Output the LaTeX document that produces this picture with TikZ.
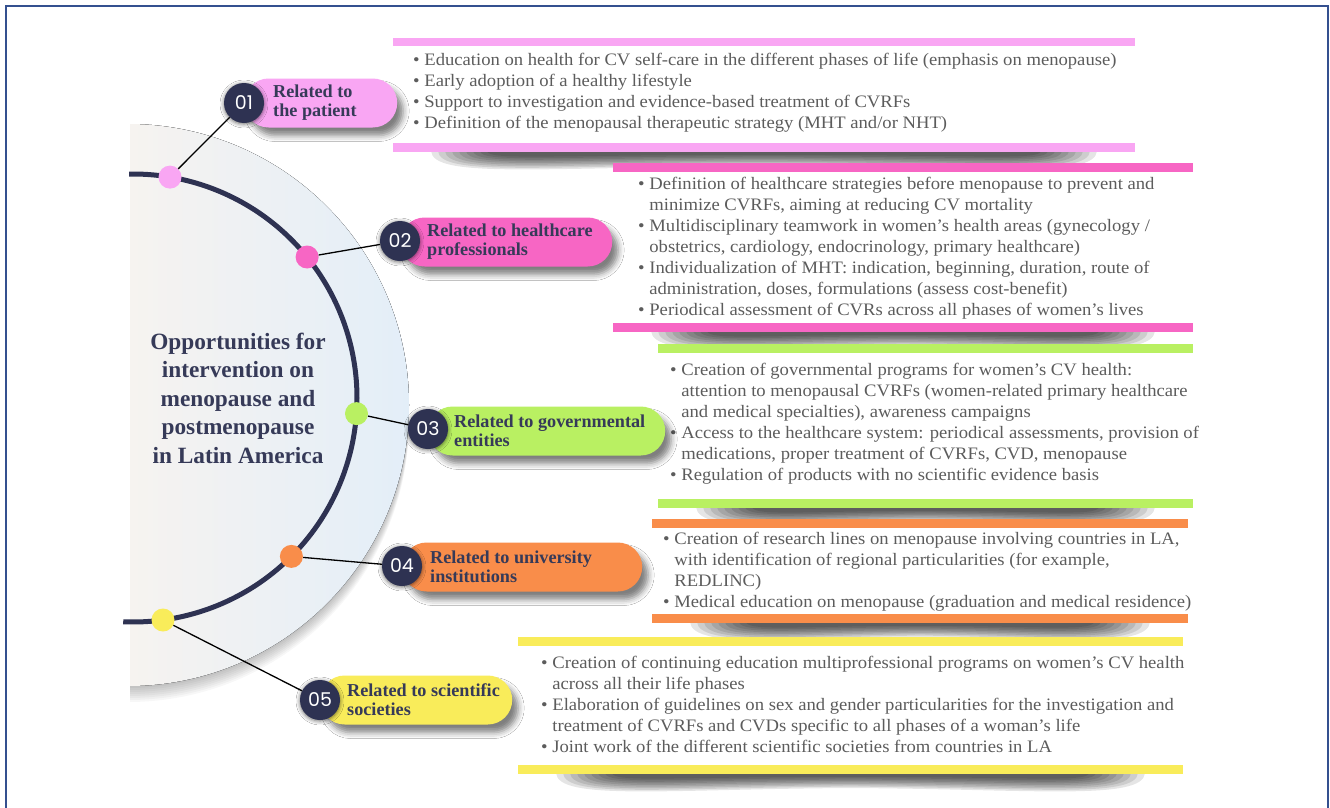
\documentclass[tikz,border=0pt]{standalone}
\usepackage{fontspec}
\setmainfont{Liberation Serif}
\newfontfamily\bodyfont[FakeStretch=1.065]{Liberation Serif}
\newfontfamily\numfont{Poppins}
\usetikzlibrary{shadows.blur}
\definecolor{frameblue}{HTML}{34508F}
\definecolor{navy}{HTML}{2E3252}
\definecolor{labelnavy}{HTML}{363A58}
\definecolor{textgray}{HTML}{5C5C5C}
\definecolor{pinkA}{HTML}{F9A6F3}
\definecolor{magentaB}{HTML}{F766C4}
\definecolor{greenC}{HTML}{B9F062}
\definecolor{orangeD}{HTML}{F98D4A}
\definecolor{yellowE}{HTML}{F9EC5A}
\definecolor{discwarm}{HTML}{F6F3F0}
\definecolor{discblue}{HTML}{E3EEF8}
\newcommand\papershadow[3]{%
  \foreach \k in {0,...,8}{%
  \fill[black, opacity=0.1]
   (#1+38+\k*7,#3) -- (#2-38-\k*7,#3) .. controls (#2-40-\k*7,#3+28-2.3*\k) and (#2-150,#3+16-1.5*\k) .. ({(#1+#2)/2},#3+15-1.4*\k)
   .. controls (#1+150,#3+16-1.5*\k) and (#1+40+\k*7,#3+28-2.3*\k) .. (#1+38+\k*7,#3) -- cycle;}}
\begin{document}
\begin{tikzpicture}[x=1pt,y=-1pt,
  body/.style={anchor=north west, inner sep=0pt, align=left, text=textgray, font=\bodyfont\fontsize{17.5}{21}\selectfont},
  label/.style={anchor=west, inner sep=0pt, align=left, text=labelnavy, font=\bfseries\fontsize{18.2}{19}\selectfont},
  title/.style={inner sep=0pt, align=center, text=labelnavy, font=\bfseries\fontsize{23.3}{28.5}\selectfont},
  numc/.style={circle, fill=navy, minimum size=40pt, inner sep=0pt, text=white, font=\numfont\fontsize{19}{19}\selectfont,
     blur shadow={shadow xshift=0pt,shadow yshift=-1pt,shadow blur radius=4pt,shadow opacity=60}},
  dotc/.style={circle, minimum size=23pt, inner sep=0pt},
  pill/.style={rectangle, rounded corners=24.5pt, minimum height=49pt, inner sep=0pt, anchor=west,
     blur shadow={shadow xshift=6pt,shadow yshift=-8pt,shadow blur radius=6pt,shadow opacity=50}},
  link/.style={line width=1.3pt, black},
  arcline/.style={line width=5pt, navy}
]
\useasboundingbox (0,0) rectangle (1330,808);
\fill[white] (0,0) rectangle (1330,808);
% frame
\draw[frameblue, line width=1.5pt] (6,808) -- (6,6) -- (1328,6) -- (1328,808);
% disc
\begin{scope}
  \clip (130,0) rectangle (1330,808);
  \foreach \k in {2,4,...,16}{\fill[black, opacity=0.03] (128,405+\k) circle (281);}
  \fill[left color=discwarm, right color=discblue] (128,405) circle (281);
  \begin{scope}
    \clip (128,405) circle (281);
    \fill[left color=discwarm, right color=discblue] (130,120) rectangle (410,690);
  \end{scope}
\end{scope}
% arc
\draw[arcline] plot[smooth, domain=-91:92.5, samples=120] ({133+224*cos(\x)},{398+224*sin(\x)});
% title
\node[title] (t) at (238,398) {Opportunities for\\intervention on\\menopause and\\postmenopause\\in Latin America};

% paper shadows
\papershadow{393}{1135}{151}
\papershadow{613}{1193}{331}
\papershadow{658}{1193}{507}
\papershadow{652}{1188}{622}
\papershadow{518}{1183}{773}

% bars
\fill[pinkA] (393,38) rectangle (1135,46.5);
\fill[pinkA] (393,143) rectangle (1135,151.5);
\fill[magentaB] (613,163) rectangle (1193,171.5);
\fill[magentaB] (613,323) rectangle (1193,331.5);
\fill[greenC] (658,344) rectangle (1193,352.5);
\fill[greenC] (658,499) rectangle (1193,507.5);
\fill[orangeD] (652,519) rectangle (1188,527.5);
\fill[orangeD] (652,614) rectangle (1188,622.5);
\fill[yellowE] (518,637) rectangle (1183,645.5);
\fill[yellowE] (518,765) rectangle (1183,773.5);

% box texts
\node[body] (b1) at (413,53) {\rule{0pt}{12pt}\textbullet\ Education on health for CV self-care in the different phases of life (emphasis on menopause)\\
\textbullet\ Early adoption of a healthy lifestyle\\
\textbullet\ Support to investigation and evidence-based treatment of CVRFs\\
\textbullet\ Definition of the menopausal therapeutic strategy (MHT and/or NHT)};
\node[body] (b2) at (638,177) {\rule{0pt}{12pt}\textbullet\ Definition of healthcare strategies before menopause to prevent and\\
\hphantom{\textbullet\ }minimize CVRFs, aiming at reducing CV mortality\\
\textbullet\ Multidisciplinary teamwork in women’s health areas (gynecology /\\
\hphantom{\textbullet\ }obstetrics, cardiology, endocrinology, primary healthcare)\\
\textbullet\ Individualization of MHT: indication, beginning, duration, route of\\
\hphantom{\textbullet\ }administration, doses, formulations (assess cost-benefit)\\
\textbullet\ Periodical assessment of CVRs across all phases of women’s lives};
\node[body] (b3) at (670,363) {\rule{0pt}{12pt}\textbullet\ Creation of governmental programs for women’s CV health:\\
\hphantom{\textbullet\ }attention to menopausal CVRFs (women-related primary healthcare\\
\hphantom{\textbullet\ }and medical specialties), awareness campaigns\\
\textbullet\ Access to the healthcare system: periodical assessments, provision of\\
\hphantom{\textbullet\ }medications, proper treatment of CVRFs, CVD, menopause\\
\textbullet\ Regulation of products with no scientific evidence basis};
\node[body] (b4) at (663,532) {\rule{0pt}{12pt}\textbullet\ Creation of research lines on menopause involving countries in LA,\\
\hphantom{\textbullet\ }with identification of regional particularities (for example,\\
\hphantom{\textbullet\ }REDLINC)\\
\textbullet\ Medical education on menopause (graduation and medical residence)};
\node[body] (b5) at (541,656) {\rule{0pt}{12pt}\textbullet\ Creation of continuing education multiprofessional programs on women’s CV health\\
\hphantom{\textbullet\ }across all their life phases\\
\textbullet\ Elaboration of guidelines on sex and gender particularities for the investigation and\\
\hphantom{\textbullet\ }treatment of CVRFs and CVDs specific to all phases of a woman’s life\\
\textbullet\ Joint work of the different scientific societies from countries in LA};

% pills
\node[pill, fill=pinkA, minimum width=153pt] (p1) at (244,103) {};
\node[pill, fill=magentaB, minimum width=212pt] (p2) at (400,242) {};
\node[pill, fill=greenC, minimum width=237pt] (p3) at (428,431) {};
\node[pill, fill=orangeD, minimum width=240pt] (p4) at (402,567) {};
\node[pill, fill=yellowE, minimum width=192pt] (p5) at (320,700) {};
% labels
\node[label] (l1) at (273,103) {Related to\\the patient};
\node[label] (l2) at (427,242) {Related to healthcare\\professionals};
\node[label] (l3) at (454,431) {Related to governmental\\entities};
\node[label] (l4) at (430,567) {Related to university\\institutions};
\node[label] (l5) at (347,700) {Related to scientific\\societies};
% number circles
\node[numc] (n1) at (244,103) {01};
\node[numc] (n2) at (400,241) {02};
\node[numc] (n3) at (428,429) {03};
\node[numc] (n4) at (402,566) {04};
\node[numc] (n5) at (320,700) {05};
% dots
\node[dotc, fill=pinkA] (d1) at (170,177.1) {};
\node[dotc, fill=magentaB] (d2) at (307.1,257) {};
\node[dotc, fill=greenC] (d3) at (356.5,413.6) {};
\node[dotc, fill=orangeD] (d4) at (291.4,556.4) {};
\node[dotc, fill=yellowE] (d5) at (163,620) {};
% links
\draw[link] (d1) -- (n1);
\draw[link] (d2) -- (n2);
\draw[link] (d3) -- (n3);
\draw[link] (d4) -- (n4);
\draw[link] (d5) -- (n5);
\end{tikzpicture}
\end{document}
